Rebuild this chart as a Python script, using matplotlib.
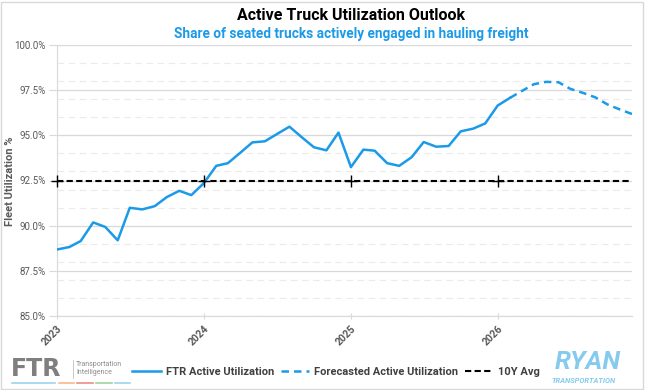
import numpy as np
import pandas as pd
import matplotlib
matplotlib.use("Agg")
import matplotlib.pyplot as plt
from matplotlib.lines import Line2D
from matplotlib.patches import Rectangle

plt.rcParams['font.family'] = ['Roboto', 'DejaVu Sans']

# monthly data, Jan 2023 .. Feb 2026 actual
actual_months = pd.date_range('2023-01-01', '2026-02-01', freq='MS')
actual = [88.68, 88.82, 89.15, 90.18, 89.93, 89.19, 90.99, 90.90, 91.08, 91.58, 91.93, 91.69,
          92.35, 93.31, 93.46, 94.04, 94.61, 94.67, 95.07, 95.48, 94.89, 94.34, 94.17, 95.15,
          93.24, 94.21, 94.15, 93.46, 93.31, 93.79, 94.63, 94.37, 94.41, 95.22, 95.37, 95.66,
          96.65, 97.08]
# forecast, Feb 2026 .. Dec 2026
forecast_months = pd.date_range('2026-02-01', '2026-12-01', freq='MS')
forecast = [97.08, 97.44, 97.83, 97.96, 97.94, 97.57, 97.35, 97.10, 96.71, 96.43, 96.18]
avg_months = pd.date_range('2023-01-01', '2026-12-01', freq='MS')
avg_value = 92.5
year_ticks = pd.to_datetime(['2023-01-01', '2024-01-01', '2025-01-01', '2026-01-01'])
year_labels = ['2023', '2024', '2025', '2026']

blue = '#1B9AE8'
grey_txt = '#595959'

fig = plt.figure(figsize=(6.5, 3.9), dpi=100)
ax = fig.add_axes([57/650, 1-316/390, (632-57)/650, (316-45)/390])

# gridlines
for v in np.arange(85, 100.01, 1.0):
    ax.axhline(v, color='#EBEBEB', lw=0.8, ls=(0, (6, 4)), zorder=0)
for v in np.arange(85, 100.01, 2.5):
    ax.axhline(v, color='#D9D9D9', lw=0.9, zorder=1)

ax.plot(avg_months, [avg_value]*len(avg_months), color='black', lw=1.5, ls=(0, (3, 1.6)),
        zorder=2)
ax.plot(year_ticks, [avg_value]*len(year_ticks), ls='none', color='black', marker='+',
        markersize=8, markeredgewidth=1.0, clip_on=False, zorder=4)
ax.plot(actual_months, actual, color=blue, lw=1.8, zorder=3)
ax.plot(forecast_months, forecast, color=blue, lw=1.8, ls=(0, (3, 2)), zorder=3)

ax.set_ylim(85, 100)
ax.set_xlim(avg_months[0], avg_months[-1])
ax.set_yticks(np.arange(85, 100.01, 2.5))
ax.set_yticklabels([f'{v:.1f}%' for v in np.arange(85, 100.01, 2.5)], color=grey_txt, fontsize=7)
ax.set_xticks(year_ticks)
ax.set_xticklabels(year_labels, rotation=45, ha='right', rotation_mode='anchor',
                   color=grey_txt, fontsize=7.5, fontweight='bold')
ax.tick_params(axis='y', length=6, color='#D9D9D9', pad=2)
ax.tick_params(axis='x', length=5, color='#D9D9D9', direction='inout', pad=3)
for s in ['top', 'right']:
    ax.spines[s].set_visible(False)
ax.spines['left'].set_color('#D9D9D9')
ax.spines['bottom'].set_color('#D9D9D9')
ax.set_facecolor('none')

fig.text(10/650, 1-181/390, 'Fleet Utilization %', rotation=90, ha='center', va='center',
         fontsize=8, fontweight='bold', color=grey_txt)

fig.text(351/650, 1-16/390, 'Active Truck Utilization Outlook', ha='center', va='center',
         fontsize=11.5, fontweight='bold', color='black')
fig.text(351/650, 1-34/390, 'Share of seated trucks actively engaged in hauling freight',
         ha='center', va='center', fontsize=9.8, fontweight='bold', color=blue)

# legend
handles = [Line2D([], [], color=blue, lw=1.8),
           Line2D([], [], color=blue, lw=1.8, ls=(0, (3, 2))),
           Line2D([], [], color='black', lw=1.5, ls=(0, (3, 1.6)))]
labels = ['FTR Active Utilization', 'Forecasted Active Utilization', '10Y Avg']
leg = fig.legend(handles, labels, loc='center',
                 bbox_to_anchor=(336/650, 1-372/390), ncol=3, frameon=False,
                 handlelength=2.6, handletextpad=0.4, columnspacing=0.6,
                 prop={'size': 8, 'weight': 'bold'})
for t in leg.get_texts():
    t.set_color('#404040')

# FTR logo
fig.text(11/650, 1-369/390, 'FTR', ha='left', va='center', fontsize=17, fontweight='bold',
         color='#7F7F7F', family='DejaVu Sans')
fig.add_artist(Line2D([73/650, 73/650], [1-378/390, 1-360/390], color='#BFBFBF', lw=0.6))
fig.text(76/650, 1-364/390, 'Transportation', ha='left', va='center', fontsize=5, color='#8C8C8C')
fig.text(76/650, 1-373/390, 'Intelligence', ha='left', va='center', fontsize=5, color='#8C8C8C')
for x0, x1, c in [(12, 55, '#9DD3EE'), (59, 74, '#F6B98A'), (77, 93, '#EE8C82'),
                  (96, 112, '#9FD39B'), (115, 130, '#9DD3EE')]:
    fig.add_artist(Line2D([x0/650, x1/650], [1-383/390]*2, color=c, lw=1.2))

# RYAN logo
fig.text(588/650, 1-362/390, 'RYAN', ha='center', va='center', fontsize=18.5, fontweight='bold',
         fontstyle='italic', color='#86CBEE')
fig.text(584/650, 1-380.5/390, 'TRANSPORTATION', ha='center', va='center', fontsize=5.4,
         fontweight='bold', fontstyle='italic', color='#86CBEE')

# outer frame
fig.add_artist(Rectangle((1/650, 1/390), 642/650, 387/390, transform=fig.transFigure,
                         fill=False, edgecolor='#D9D9D9', lw=1.0))

fig.savefig('out.png', dpi=100)
